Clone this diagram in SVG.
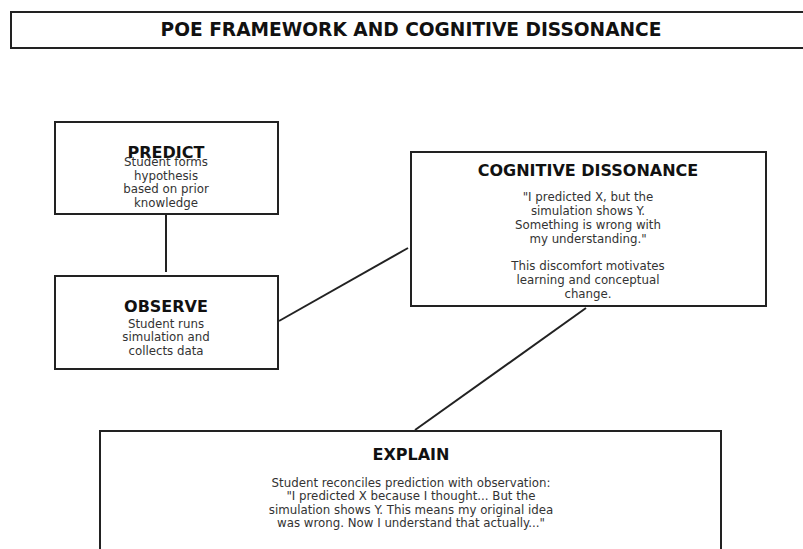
<svg xmlns="http://www.w3.org/2000/svg" width="803" height="549" viewBox="0 0 803 549">
  <style>
    .box { fill: #ffffff; stroke: #222222; stroke-width: 2; }
    .edge { stroke: #222222; stroke-width: 2; fill: none; }
    .head { font-family: "DejaVu Sans", sans-serif; font-weight: bold; font-size: 16px; fill: #111111; text-anchor: middle; }
    .body { font-family: "DejaVu Sans", sans-serif; font-size: 11.8px; fill: #333333; text-anchor: middle; }
    .title { font-family: "DejaVu Sans", sans-serif; font-weight: bold; font-size: 18.6px; fill: #111111; text-anchor: middle; }
  </style>
  <rect width="803" height="549" fill="#ffffff"/>

  <g id="title">
    <rect class="box" x="11" y="12" width="800" height="36"/>
    <text class="title" x="411" y="36">POE FRAMEWORK AND COGNITIVE DISSONANCE</text>
  </g>

  <g id="connectors">
    <line class="edge" x1="166" y1="214" x2="166" y2="272"/>
    <line class="edge" x1="279" y1="321" x2="408" y2="248"/>
    <line class="edge" x1="586" y1="308" x2="415" y2="430"/>
  </g>

  <g id="predict">
    <rect class="box" x="55" y="122" width="223" height="92"/>
    <text class="head" x="166" y="158">PREDICT</text>
    <text class="body" x="166" y="166">Student forms</text>
    <text class="body" x="166" y="180">hypothesis</text>
    <text class="body" x="166" y="193">based on prior</text>
    <text class="body" x="166" y="207">knowledge</text>
  </g>

  <g id="observe">
    <rect class="box" x="55" y="276" width="223" height="93"/>
    <text class="head" x="166" y="312">OBSERVE</text>
    <text class="body" x="166" y="328">Student runs</text>
    <text class="body" x="166" y="341">simulation and</text>
    <text class="body" x="166" y="355">collects data</text>
  </g>

  <g id="dissonance">
    <rect class="box" x="411" y="152" width="355" height="154"/>
    <text class="head" x="588" y="176">COGNITIVE DISSONANCE</text>
    <text class="body" x="588" y="201">"I predicted X, but the</text>
    <text class="body" x="588" y="215">simulation shows Y.</text>
    <text class="body" x="588" y="229">Something is wrong with</text>
    <text class="body" x="588" y="243">my understanding."</text>
    <text class="body" x="588" y="270">This discomfort motivates</text>
    <text class="body" x="588" y="284">learning and conceptual</text>
    <text class="body" x="588" y="298">change.</text>
  </g>

  <g id="explain">
    <rect class="box" x="100" y="431" width="621" height="140"/>
    <text class="head" x="411" y="460">EXPLAIN</text>
    <text class="body" x="411" y="487">Student reconciles prediction with observation:</text>
    <text class="body" x="411" y="500">"I predicted X because I thought... But the</text>
    <text class="body" x="411" y="514">simulation shows Y. This means my original idea</text>
    <text class="body" x="411" y="527">was wrong. Now I understand that actually..."</text>
  </g>
</svg>
